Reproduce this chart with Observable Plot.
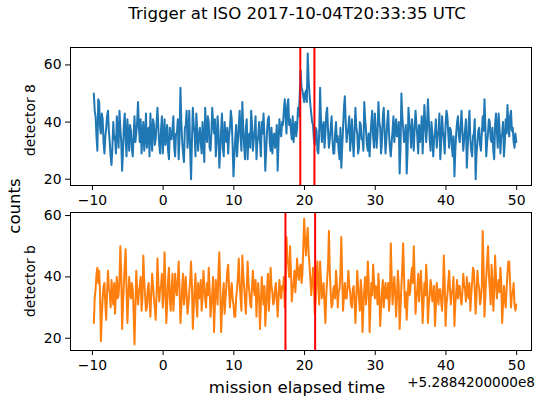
<!DOCTYPE html>
<html>
<head>
<meta charset="utf-8">
<script src="https://cdn.jsdelivr.net/npm/d3@7"></script>
<script src="https://cdn.jsdelivr.net/npm/@observablehq/plot@0.6"></script>
<style>
  html, body { margin: 0; padding: 0; background: #fff; }
  #fig { position: relative; width: 537px; height: 400px; font-family: "DejaVu Sans", sans-serif; color: #000; overflow: hidden; }
  #fig svg { position: absolute; left: 0; top: 0; }
  .lbl { position: absolute; white-space: nowrap; line-height: 1; width: max-content; }
</style>
</head>
<body>
<div id="fig"></div>
<script>
// ---- data ----
const titleText = "Trigger at ISO 2017-10-04T20:33:35 UTC";
const xLabel = "mission elapsed time";
const yLabel = "counts";
const offsetText = "+5.2884200000e8";
const panelLabels = ["detector 8", "detector b"];
const xTicks = [-10, 0, 10, 20, 30, 40, 50];
const yTicks = [20, 40, 60];
const timeStart = -9.8;   // seconds (relative to offset)
const timeStep = 0.125;

const det8 = [
  50,44,42,35,30,48,47,38, 36,43,41,33,29,35,38,42, 44,37,33,28,25,31,40,34,
  35,29,42,37,31,44,38,33, 23,30,39,43,34,28,41,36, 30,39,37,31,28,35,42,33,
  36,40,47,38,33,41,29,36, 40,30,35,43,31,37,38,28, 43,36,30,41,39,32,34,40,
  45,38,32,29,37,42,29,35, 41,32,35,39,30,27,38,34, 34,38,42,31,28,36,36,41,
  27,35,52,40,33,29,26,38, 39,44,31,36,44,30,20,33, 45,39,36,28,43,37,30,35,
  38,33,29,40,34,26,45,37, 33,42,40,31,30,36,45,39, 36,41,28,33,42,37,24,30,
  37,43,31,28,40,35,33,38, 29,35,38,44,41,32,21,28, 34,39,28,33,39,44,35,30,
  47,38,32,27,38,41,27,35, 36,31,44,39,30,34,37,42, 27,33,35,40,33,28,40,36,
  43,35,23,30,37,41,42,33, 30,38,29,35,36,31,34,39, 23,33,41,37,35,40,39,44,
  48,42,36,46,48,39,41,37, 34,42,33,38,40,35,38,45, 42,50,58,52,51,49,47,50,
  51,47,64,55,50,46,43,40, 39,34,32,38,37,30,29,36, 52,41,33,38,40,31,36,43,
  45,37,31,34,38,42,34,29, 29,36,40,33,35,30,27,38, 24,31,38,45,49,40,33,36,
  38,42,30,35,41,33,28,37, 45,38,36,29,31,40,39,34, 34,30,47,41,37,32,30,36,
  28,35,40,44,35,31,43,37, 31,36,47,40,38,29,33,42, 45,37,29,34,40,44,36,31,
  28,33,37,42,33,38,41,35, 35,40,22,31,50,42,38,33, 34,39,22,30,45,40,37,31,
  41,36,30,38,44,39,35,29, 39,33,36,42,29,37,46,40, 33,38,48,41,34,30,40,36,
  28,34,36,41,31,35,37,43, 27,33,42,37,34,29,39,44, 42,36,31,38,37,32,28,35,
  21,30,36,40,42,35,33,38, 44,37,30,34,37,41,24,31, 39,44,34,30,28,35,36,41,
  20,29,33,37,38,32,30,36, 42,37,48,39,28,33,36,41, 40,34,33,38,30,27,39,43,
  37,31,43,38,29,35,36,40, 28,33,41,36,46,39,35,42, 44,37,38,33,31,36,33
];
const detB = [
  25,33,36,41,43,38,42,35, 19,27,33,37,38,31,26,35, 42,36,35,30,39,34,31,38,
  28,35,40,33,34,39,50,41, 23,31,38,44,49,36,25,33, 40,35,33,38,36,29,18,30,
  42,36,31,35,37,40,29,33, 47,39,34,29,30,36,38,32, 27,35,41,37,33,30,26,34,
  46,38,32,36,37,41,30,34, 48,37,25,31,39,43,33,29, 36,41,29,34,41,36,34,39,
  45,36,25,30,37,41,31,35, 40,34,28,31,35,39,45,37, 23,30,36,41,31,27,38,33,
  34,39,29,33,42,37,33,30, 38,34,43,36,27,31,35,40, 22,31,39,35,31,42,48,37,
  22,29,34,38,28,33,37,42, 44,36,30,35,38,33,31,27, 27,33,36,40,46,38,33,29,
  47,41,37,33,28,36,45,38, 35,31,30,37,42,36,34,39, 27,35,38,33,23,31,40,35,
  31,37,24,30,36,41,29,34, 43,37,35,31,32,36,38,33, 27,33,39,35,33,37,36,40,
  30,38,53,46,44,40,50,42, 32,36,38,42,35,40,46,41, 39,43,44,38,41,50,59,52,
  47,52,56,48,44,39,34,38, 43,37,28,33,41,45,36,31, 45,39,33,36,38,31,25,34,
  39,44,55,42,35,30,31,36, 37,33,42,38,30,35,36,41, 53,40,29,34,38,33,33,37,
  42,37,35,31,30,36,37,32, 25,33,42,37,33,29,39,35, 22,30,36,40,31,35,45,38,
  22,31,38,34,44,39,33,37, 36,31,41,35,24,30,35,39, 30,35,38,33,33,38,29,34,
  51,40,31,36,40,35,27,33, 42,37,23,30,37,43,51,40, 30,35,26,33,39,34,35,40,
  43,38,50,39,28,33,36,41, 32,37,42,36,25,31,38,34, 44,38,25,31,34,39,37,32,
  33,37,24,30,38,34,31,36, 36,32,29,35,47,38,24,31, 34,38,42,36,31,35,36,40,
  24,31,35,39,33,37,37,33, 31,35,41,37,36,32,40,35, 33,38,29,34,38,43,42,36,
  28,34,42,38,36,31,33,37, 55,43,27,34,40,45,50,41, 36,31,44,39,29,35,47,40,
  33,37,39,35,43,38,25,31, 37,33,30,36,41,45,45,38, 30,34,35,38,31,29,31
];
const redLines8 = [19.4, 21.4];
const redLinesB = [17.3, 21.5];
const colors = ["#1f77b4", "#ff7f0e"];

// ---- build ----
const fig = document.getElementById("fig");
const font = "DejaVu Sans";
const mk = (vals) => vals.map((v, i) => ({t: timeStart + i * timeStep, v}));

function panel(vals, color, reds, yDomain, mTop, mBottom) {
  return Plot.plot({
    width: 537, height: 400,
    marginLeft: 70, marginRight: 6, marginTop: mTop, marginBottom: mBottom,
    style: {fontFamily: font, fontSize: "13.9px", color: "#000", background: "transparent", overflow: "visible"},
    x: {domain: [-13.1, 52.1]},
    y: {domain: yDomain},
    marks: [
      Plot.lineY(mk(vals), {x: "t", y: "v", stroke: color, strokeWidth: 2}),
      Plot.ruleX(reds, {stroke: "#ff0000", strokeWidth: 2}),
      Plot.frame({stroke: "#000", strokeWidth: 1}),
      Plot.axisX({ticks: xTicks, tickSize: 5, tickPadding: 5, label: null, strokeWidth: 1}),
      Plot.axisY({ticks: yTicks, tickSize: 5, tickPadding: 4, label: null, strokeWidth: 1})
    ]
  });
}

fig.appendChild(panel(det8, colors[0], redLines8, [17.8, 66.1], 47, 215));
fig.appendChild(panel(detB, colors[1], redLinesB, [16.0, 61.0], 212, 50));

function label(text, x, y, size, rot, anchor) {
  const d = document.createElement("div");
  d.className = "lbl";
  d.textContent = text;
  d.style.fontSize = size + "px";
  d.style.left = x + "px";
  d.style.top = y + "px";
  const tx = anchor === "end" ? "-100%" : "-50%";
  d.style.transform = `translate(${tx}, -50%)` + (rot ? ` rotate(${rot}deg)` : "");
  fig.appendChild(d);
}
label(titleText, 297, 14, 16.6, 0);
label(yLabel, 15, 206, 16.6, -90);
label(panelLabels[0], 31, 120, 13.9, -90);
label(panelLabels[1], 31, 281, 13.9, -90);
label(xLabel, 297, 388, 16.6, 0);
label(offsetText, 535, 383, 13.6, 0, "end");
</script>
</body>
</html>
